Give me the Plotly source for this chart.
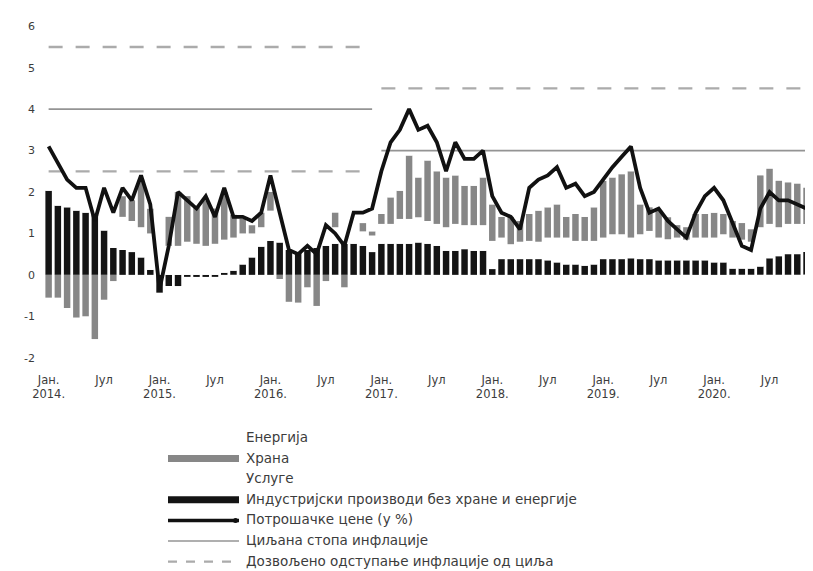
import plotly.graph_objects as go

# ---- data (monthly, Jan 2014 - Dec 2020), contributions in p.p., CPI y-o-y in %
years = [2014, 2015, 2016, 2017, 2018, 2019, 2020]
months = [f"{y}-{m:02d}" for y in years for m in range(1, 13)]

cpi = [3.1, 2.7, 2.3, 2.1, 2.1, 1.3, 2.1, 1.5, 2.1, 1.8, 2.4, 1.7,
       -0.35, 0.7, 2.0, 1.8, 1.6, 1.9, 1.4, 2.1, 1.4, 1.4, 1.3, 1.5,
       2.4, 1.5, 0.6, 0.5, 0.7, 0.5, 1.2, 1.0, 0.7, 1.5, 1.5, 1.6,
       2.5, 3.2, 3.5, 4.0, 3.5, 3.6, 3.2, 2.5, 3.2, 2.8, 2.8, 3.0,
       1.9, 1.5, 1.4, 1.1, 2.1, 2.3, 2.4, 2.6, 2.1, 2.2, 1.9, 2.0,
       2.3, 2.6, 2.85, 3.1, 2.1, 1.5, 1.6, 1.3, 1.1, 0.9, 1.5, 1.9,
       2.1, 1.8, 1.25, 0.7, 0.6, 1.6, 2.0, 1.8, 1.8, 1.7, 1.6, 1.2]

industrial = [2.03, 1.67, 1.63, 1.55, 1.5, 1.45, 1.07, 0.65, 0.6, 0.55, 0.42, 0.12,
              -0.43, -0.27, -0.27, -0.05, -0.05, -0.05, -0.05, 0.05, 0.1, 0.25, 0.42, 0.68,
              0.82, 0.78, 0.6, 0.55, 0.6, 0.65, 0.7, 0.75, 0.75, 0.75, 0.7, 0.55,
              0.75, 0.75, 0.75, 0.75, 0.78, 0.75, 0.7, 0.58, 0.58, 0.62, 0.58, 0.58,
              0.14, 0.38, 0.38, 0.38, 0.38, 0.38, 0.35, 0.3, 0.25, 0.25, 0.22, 0.25,
              0.38, 0.38, 0.38, 0.4, 0.38, 0.38, 0.35, 0.35, 0.35, 0.35, 0.35, 0.35,
              0.3, 0.3, 0.15, 0.15, 0.15, 0.2, 0.4, 0.45, 0.5, 0.5, 0.55, 0.58]

services = [1.62, 1.58, 1.47, 1.58, 1.6, 1.4, 1.63, 1.0, 0.8, 0.75, 0.73, 0.88,
            0.08, 0.7, 0.7, 0.8, 0.75, 0.7, 0.75, 0.8, 0.8, 0.75, 0.58, 0.47,
            0.73, 0.82, 0.65, 0.62, 0.4, 0.6, 0.65, 0.4, 0.25, 0.75, 0.35, 0.4,
            0.48, 0.48, 0.6, 0.6, 0.61, 0.55, 0.53, 0.57, 0.65, 0.58, 0.62, 0.62,
            0.68, 0.52, 0.36, 0.42, 0.44, 0.42, 0.55, 0.6, 0.65, 0.57, 0.6, 0.57,
            0.52, 0.6, 0.6, 0.5, 0.6, 0.68, 0.55, 0.51, 0.55, 0.5, 0.55, 0.55,
            0.6, 0.68, 0.75, 0.7, 0.65, 0.95, 0.83, 0.7, 0.73, 0.73, 0.68, 0.57]

food = [-0.55, -0.55, -0.8, -1.03, -1.0, -1.55, -0.6, -0.15, 0.5, 0.5, 1.15, 0.6,
        0.0, 0.7, 1.3, 1.1, 0.9, 1.1, 0.85, 1.15, 0.55, 0.35, 0.2, 0.35,
        0.45, -0.1, -0.65, -0.67, -0.3, -0.75, -0.15, 0.35, -0.3, 0.0, 0.2, 0.1,
        0.24, 0.64, 0.68, 1.53, 0.96, 1.46, 1.27, 1.2, 1.17, 0.95, 0.95, 1.15,
        0.88, 0.5, 0.66, 0.5, 0.65, 0.75, 0.73, 0.8, 0.5, 0.65, 0.58, 0.81,
        1.37, 1.37, 1.45, 1.6, 0.72, 0.57, 0.65, 0.53, 0.3, 0.3, 0.57, 0.57,
        0.6, 0.49, 0.4, 0.4, 0.3, 1.25, 1.33, 1.12, 1.0, 0.97, 0.87, 0.8]

energy = [0.0, 0.0, 0.0, 0.0, 0.0, 0.0, 0.0, 0.0, 0.2, 0.0, 0.1, 0.1,
          0.0, -0.43, 0.27, -0.05, 0.0, 0.15, -0.15, 0.1, -0.05, 0.05, 0.1, 0.0,
          0.4, 0.0, 0.0, 0.0, 0.0, 0.0, 0.0, -0.5, 0.0, 0.0, 0.25, 0.55,
          1.03, 1.33, 1.47, 1.12, 1.15, 0.84, 0.7, 0.15, 0.8, 0.65, 0.65, 0.65,
          0.2, 0.1, 0.0, -0.2, 0.63, 0.75, 0.77, 0.9, 0.7, 0.73, 0.5, 0.37,
          0.03, 0.25, 0.42, 0.6, 0.4, -0.13, 0.05, -0.09, -0.1, -0.25, 0.03, 0.43,
          0.6, 0.33, -0.05, -0.55, -0.5, -0.8, -0.56, -0.47, -0.43, -0.5, -0.5, -0.75]

# inflation target regimes: first month, last month, target, tolerance, lower band drawn?
regime_start = ["2014-01", "2017-01"]
regime_end = ["2016-12", "2020-12"]
target_rate = [4.0, 3.0]
tolerance = [1.5, 1.5]
lower_band_drawn = [True, False]

tick_months = [m for m in months if m.endswith("-01") or m.endswith("-07")]
tick_text = [f"Јан.<br>{m[:4]}." if m.endswith("-01") else "Јул" for m in tick_months]

names = {
    "energy": "Енергија",
    "food": "Храна",
    "services": "Услуге",
    "industrial": "Индустријски производи без хране и енергије",
    "cpi": "Потрошачке цене (у %)",
    "target": "Циљана стопа инфлације",
    "band": "Дозвољено одступање инфлације од циља",
}

FOOD_C = "#878787"
IND_C = "#141414"
TGT_C = "#949494"
BAND_C = "#ababab"
TXT_C = "#3c3c3c"
FONT = "DejaVu Sans, Verdana, sans-serif"

fig = go.Figure()
bar_style = dict(showlegend=False, marker_line_width=0)
fig.add_bar(x=months, y=industrial, name=names["industrial"], marker_color=IND_C, **bar_style)
fig.add_bar(x=months, y=services, name=names["services"], marker_color="#ffffff", **bar_style)
fig.add_bar(x=months, y=food, name=names["food"], marker_color=FOOD_C, **bar_style)
fig.add_bar(x=months, y=energy, name=names["energy"], marker_color="#ffffff", **bar_style)

for s, e, t, tol, low in zip(regime_start, regime_end, target_rate, tolerance, lower_band_drawn):
    i0, i1 = months.index(s), months.index(e)
    seg = months[i0:i1 + 1]
    n = len(seg)
    fig.add_scatter(x=seg, y=[t] * n, mode="lines", name=names["target"],
                    line=dict(color=TGT_C, width=1.7), showlegend=False)
    bands = [t + tol] + ([t - tol] if low else [])
    for v in bands:
        fig.add_scatter(x=seg, y=[v] * n, mode="lines", name=names["band"],
                        line=dict(color=BAND_C, width=2.3, dash="14px,13px"), showlegend=False)

fig.add_scatter(x=months, y=cpi, mode="lines", name=names["cpi"],
                line=dict(color="#111111", width=3.8), showlegend=False)

# ---- geometry: the page shows the figure 8px in from the top-left corner,
# so the figure is drawn 8px smaller and all reference pixel positions are shifted.
OFF = 8
W, H = 813 - OFF, 571 - OFF
PLOT_L, PLOT_T, PLOT_B = 44 - OFF, 18 - OFF, 366 - OFF
L, R, T, B = PLOT_L, 0, PLOT_T, H - PLOT_B
pw, ph = W - L - R, H - T - B


def px_x(x_ref):
    return (x_ref - OFF - L) / pw


def px_y(y_ref):
    return (PLOT_B - (y_ref - OFF)) / ph


# ---- manual legend (long swatches as in the original)
legend_rows = [
    ("energy", dict(color="#ffffff", width=7)),
    ("food", dict(color=FOOD_C, width=7)),
    ("services", dict(color="#ffffff", width=7)),
    ("industrial", dict(color=IND_C, width=7)),
    ("cpi", dict(color="#111111", width=3.5)),
    ("target", dict(color=TGT_C, width=1.6)),
    ("band", dict(color=BAND_C, width=2.2, dash="dash")),
]
shapes = []
annotations = []
y0 = 437
dy = 20.6
for i, (key, ln) in enumerate(legend_rows):
    yy = y0 + i * dy
    shapes.append(dict(type="line", xref="paper", yref="paper",
                       x0=px_x(168), x1=px_x(239), y0=px_y(yy + 1), y1=px_y(yy + 1),
                       line=ln, layer="above"))
    annotations.append(dict(xref="paper", yref="paper", x=px_x(244), y=px_y(yy),
                            xanchor="left", yanchor="middle", showarrow=False,
                            text=names[key], font=dict(family=FONT, size=13.5, color=TXT_C)))
# marker on the CPI legend swatch
shapes.append(dict(type="circle", xref="paper", yref="paper",
                   x0=px_x(233), x1=px_x(238), y0=px_y(y0 + 4 * dy + 3.5), y1=px_y(y0 + 4 * dy - 1.5),
                   fillcolor="#111111", line=dict(width=0), layer="above"))

fig.update_layout(
    width=W, height=H,
    margin=dict(l=L, r=R, t=T, b=B, pad=0),
    paper_bgcolor="white", plot_bgcolor="white",
    barmode="relative", bargap=0.3,
    showlegend=False,
    font=dict(family=FONT, size=11, color=TXT_C),
    shapes=shapes, annotations=annotations,
    xaxis=dict(type="category", categoryorder="array", categoryarray=months,
               range=[-0.5, 82.7], tickmode="array", tickvals=tick_months, ticktext=tick_text,
               tickangle=0, showgrid=False, zeroline=False, showline=False, ticks="",
               ticklabelstandoff=5, tickfont=dict(family=FONT, size=11.5, color=TXT_C)),
    yaxis=dict(range=[-2.2, 6.2], tickmode="array", tickvals=list(range(-2, 7)),
               ticktext=[str(v) if v >= 0 else f"-{abs(v)}" for v in range(-2, 7)],
               showgrid=False, zeroline=False, showline=False, ticks="",
               ticklabelstandoff=8, tickfont=dict(family=FONT, size=11, color=TXT_C)),
)

fig.write_html("out.html")
